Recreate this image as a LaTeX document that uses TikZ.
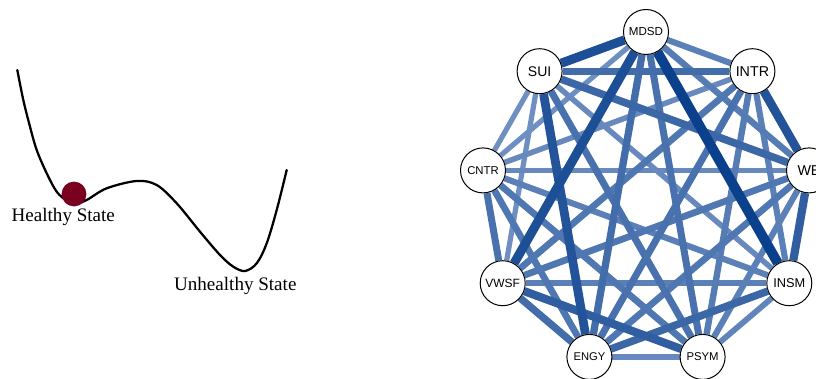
\documentclass[tikz,border=0pt]{standalone}
\usepackage{fontspec}
\setmainfont{Liberation Serif}
\setsansfont{Liberation Sans}
\usetikzlibrary{backgrounds}
\definecolor{edgelight}{RGB}{134,162,206}
\definecolor{edgedark}{RGB}{10,64,140}
\definecolor{ballred}{RGB}{122,0,32}
\tikzset{
  var/.style={circle, draw=black, line width=0.75pt, fill=white,
    minimum size=33.75pt, inner sep=0pt},
  statelabel/.style={anchor=base, inner sep=0pt, font=\fontsize{14.3}{17}\selectfont},
  landscape/.style={line width=1.7pt, line join=round, line cap=round}
}
\begin{document}
\begin{tikzpicture}[x=0.75pt,y=-0.75pt]
\useasboundingbox (0,0) rectangle (816,378);
\clip (0,0) rectangle (816,378);

% potential landscape with two valleys
\draw[landscape] plot[smooth, tension=0.55] coordinates {
  (17.3,70) (23.3,100) (30,126.7) (36.7,150) (46.7,173.3) (56.7,191.7)
  (66.7,200.7) (75,204) (86.7,200) (106.7,188.3) (136.7,181) (156.7,185)
  (176.7,203.3) (200,231.7) (220,255) (233.3,266.7) (245,271) (256.7,263.3)
  (266.7,243.3) (276.7,210) (286.7,170)};
\fill[ballred] (74,194) circle[radius=9.3pt];
\node[statelabel] (healthy) at (63.3,221.7) {Healthy State};
\node[statelabel] (unhealthy) at (235.3,290) {Unhealthy State};

% symptom network
\node[var, font=\sffamily\fontsize{8.7}{10}\selectfont]  (M) at (646,32)      {MDSD};
\node[var, font=\sffamily\fontsize{10.7}{12}\selectfont] (I) at (752.4,71.2)  {INTR};
\node[var, font=\sffamily\fontsize{10.7}{12}\selectfont] (W) at (809,170.4)   {WE};
\node[var, font=\sffamily\fontsize{9.6}{11}\selectfont]  (N) at (789.3,283.2) {INSM};
\node[var, font=\sffamily\fontsize{8.5}{10}\selectfont]  (P) at (702.6,356.9) {PSYM};
\node[var, font=\sffamily\fontsize{8.4}{10}\selectfont]  (E) at (589.4,356.9) {ENGY};
\node[var, font=\sffamily\fontsize{9}{10}\selectfont]    (V) at (502.7,283.2) {VWSF};
\node[var, font=\sffamily\fontsize{8.5}{10}\selectfont]  (C) at (483,170.4)   {CNTR};
\node[var, font=\sffamily\fontsize{10.5}{12}\selectfont] (S) at (539.6,71.2)  {SUI};

\begin{pgfonlayer}{background}
  % edges, weakest first so the strong ones lie on top
  \foreach \a/\b/\w in {
    S/V/0.2, S/C/0.2, M/C/0.2,
    S/N/0.25, I/C/0.25, W/C/0.25, P/E/0.25,
    N/P/0.3,
    M/I/0.35, I/N/0.35, W/P/0.35, N/C/0.35, N/V/0.35,
    M/W/0.4, I/P/0.4,
    I/V/0.45, W/V/0.45, W/E/0.45, P/C/0.45, E/C/0.45,
    S/P/0.5, M/P/0.5, I/E/0.5, V/C/0.5,
    S/I/0.55, M/E/0.55, E/V/0.55,
    S/W/0.6, N/E/0.6,
    W/N/0.7, P/V/0.7,
    S/E/0.8, I/W/0.8,
    S/M/0.85, M/V/0.85,
    M/N/1.0} {
    \pgfmathsetmacro\ewidth{(4+6*\w)*0.75}
    \pgfmathtruncatemacro\eshade{100*\w}
    \draw[line width=\ewidth pt, color=edgedark!\eshade!edgelight] (\a) -- (\b);
  }
\end{pgfonlayer}
\end{tikzpicture}
\end{document}
